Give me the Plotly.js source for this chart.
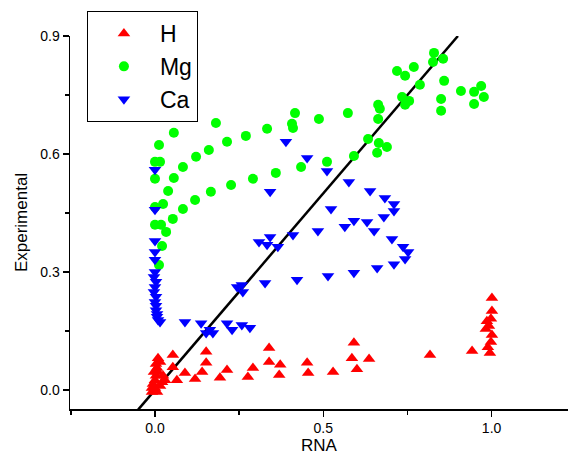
<!DOCTYPE html>
<html>
<head>
<meta charset="utf-8">
<script src="https://cdn.plot.ly/plotly-3.0.1.min.js"></script>
<style>html,body{margin:0;padding:0;background:#fff;}#chart{width:568px;height:465px;}</style>
</head>
<body>
<div id="chart"></div>
<script>
// H series
const hX = [-0.009,-0.006,0.0,0.003,-0.003,0.006,0.003,0.015,0.009,-0.009,0.006,0.015,0.021,0.030,0.024,0.0,0.009,
  0.053,0.053,0.065,0.089,0.119,0.140,0.152,0.152,0.193,0.214,0.276,0.291,0.339,0.339,0.372,0.369,0.452,0.455,0.529,
  0.591,0.585,0.636,0.600,0.817,0.942,1.001,1.001,0.998,0.992,0.986,1.001,0.998,0.989,0.995,0.983];
const hY = [0.005,0.015,0.025,0.036,0.046,0.056,0.066,0.071,0.081,-0.005,-0.005,0.010,0.020,0.025,0.036,0.005,0.046,
  0.089,0.058,0.025,0.043,0.028,0.046,0.069,0.097,0.031,0.051,0.033,0.056,0.107,0.071,0.064,0.038,0.069,0.043,0.046,
  0.120,0.081,0.079,0.053,0.089,0.099,0.234,0.201,0.181,0.163,0.175,0.140,0.122,0.109,0.094,0.155];
// Mg series
const mgX = [0.012,0.021,0.033,0.018,0.0,0.053,0.083,0.119,0.166,0.226,0.291,0.359,0.434,0.511,0.591,0.660,
  0.0,0.024,0.039,0.056,0.083,0.122,0.160,0.214,0.270,0.333,0.407,0.410,0.487,0.573,
  0.0,0.0,0.015,0.012,0.056,0.181,0.416,
  0.663,0.668,0.663,0.633,0.665,0.689,
  0.829,0.826,0.856,0.719,0.743,0.769,0.859,0.787,0.734,0.755,0.743,0.850,0.850,0.909,0.948,0.969,0.977,0.948];
const mgY = [0.318,0.366,0.402,0.420,0.420,0.435,0.460,0.483,0.504,0.521,0.537,0.552,0.567,0.580,0.595,0.603,
  0.465,0.473,0.506,0.539,0.567,0.593,0.610,0.631,0.646,0.664,0.677,0.666,0.689,0.704,
  0.537,0.580,0.580,0.623,0.654,0.679,0.704,
  0.725,0.715,0.689,0.638,0.628,0.618,
  0.857,0.834,0.842,0.811,0.799,0.821,0.786,0.776,0.745,0.735,0.725,0.740,0.710,0.760,0.758,0.773,0.745,0.727];
// Ca series
const caX = [0.0,0.0,0.0,0.0,0.0,0.0,-0.003,0.003,0.0,-0.003,0.003,0.0,0.003,0.003,0.006,0.006,0.009,0.015,
  0.089,0.137,0.163,0.152,0.172,0.214,0.229,0.258,0.282,
  0.244,0.261,0.258,0.327,0.422,0.514,0.591,0.660,0.710,0.743,0.752,0.737,0.704,0.651,0.630,0.591,0.564,0.523,
  0.680,0.710,0.710,0.683,0.639,0.576,0.511,0.452,0.484,0.410,0.365,0.342,0.309,0.333,0.342,0.389];
const caY = [0.560,0.458,0.379,0.351,0.331,0.300,0.287,0.275,0.262,0.249,0.237,0.224,0.214,0.203,0.193,0.186,0.178,0.173,
  0.173,0.170,0.153,0.145,0.145,0.170,0.153,0.165,0.158,
  0.262,0.249,0.267,0.272,0.280,0.290,0.298,0.310,0.320,0.333,0.351,0.364,0.384,0.404,0.427,0.430,0.415,0.460,
  0.440,0.455,0.473,0.488,0.506,0.529,0.557,0.590,0.404,0.394,0.364,0.389,0.376,0.369,0.504,0.631];
// reference line
const fitX = [-0.05, 0.9];
const fitY = [-0.05, 0.9];

const traces = [
  {x: fitX, y: fitY, mode: 'lines', line: {color: '#000', width: 2.5}, showlegend: false, hoverinfo: 'skip'},
  {x: hX, y: hY, mode: 'markers', name: 'H', marker: {symbol: 'triangle-up', size: 11, color: '#ff0000'}},
  {x: mgX, y: mgY, mode: 'markers', name: 'Mg', marker: {symbol: 'circle', size: 10, color: '#00ff00'}},
  {x: caX, y: caY, mode: 'markers', name: 'Ca', marker: {symbol: 'triangle-down', size: 11, color: '#0000ff'}}
];

const fam = 'Liberation Sans, Arial, sans-serif';
const axisFont = {family: fam, size: 14, color: '#000'};
const layout = {
  width: 568, height: 465,
  margin: {l: 70, r: 0, t: 36, b: 56},
  paper_bgcolor: '#fff', plot_bgcolor: '#fff',
  font: axisFont,
  xaxis: {
    range: [-0.2525, 1.227], showgrid: false, zeroline: false,
    showline: true, linecolor: '#000', linewidth: 1.5,
    ticks: 'outside', ticklen: 6, tickwidth: 1.5, tickcolor: '#000',
    tickvals: [0, 0.5, 1.0], ticktext: ['0.0', '0.5', '1.0'],
    minor: {tickvals: [-0.25, 0.25, 0.75], ticks: 'outside', ticklen: 4, tickwidth: 1.5, tickcolor: '#000'},
    tickfont: axisFont,
    title: {text: 'RNA', font: {family: fam, size: 17, color: '#000'}, standoff: 4}
  },
  yaxis: {
    range: [-0.0483, 0.9], showgrid: false, zeroline: false,
    showline: true, linecolor: '#000', linewidth: 1.5,
    ticks: 'outside', ticklen: 6, tickwidth: 1.5, tickcolor: '#000',
    tickvals: [0, 0.3, 0.6, 0.9], ticktext: ['0.0', '0.3', '0.6', '0.9'],
    minor: {tickvals: [0.15, 0.45, 0.75], ticks: 'outside', ticklen: 4, tickwidth: 1.5, tickcolor: '#000'},
    tickfont: axisFont,
    title: {text: 'Experimental', font: {family: fam, size: 17, color: '#000'}, standoff: 8}
  },
  legend: {
    x: 0.034, y: 1.067, xanchor: 'left', yanchor: 'top',
    bgcolor: '#fff', bordercolor: '#000', borderwidth: 1,
    font: {family: fam, size: 23, color: '#000'},
    itemwidth: 62, tracegroupgap: 0
  },
  showlegend: true
};
Plotly.newPlot('chart', traces, layout, {displayModeBar: false, staticPlot: true});
</script>
</body>
</html>
